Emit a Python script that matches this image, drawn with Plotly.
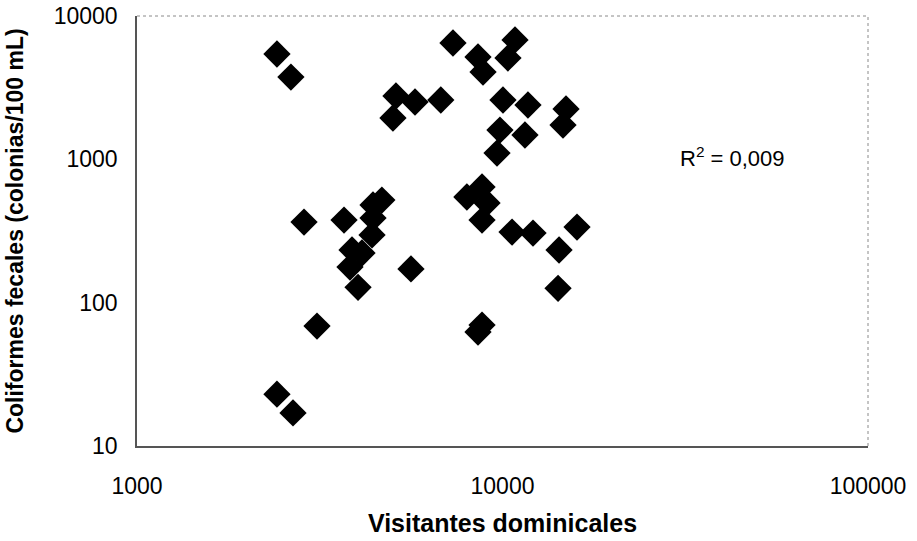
import plotly.graph_objects as go

# Visitantes dominicales (x) and Coliformes fecales (y)
visitantes = [
    2415, 2637, 2864, 3108, 2415, 2672, 3685,
    4677, 4423, 4423, 4396, 3875, 4127, 3826, 4025, 5618,
    5111, 5763, 6780, 5015,
    7320, 8570, 8845, 10820, 10350, 10030, 11740, 14920, 14640, 9840, 11520, 9660,
    7990, 8790, 9070, 8790, 10620, 12120, 15990, 14280, 14190, 8790, 8570,
]
coliformes = [
    5430, 3750, 365, 68.7, 23.0, 17.0, 377,
    520, 480, 389, 297, 233, 222, 177, 128, 172,
    2767, 2512, 2593, 1942,
    6480, 5175, 4066, 6805, 5093, 2593, 2393, 2244, 1735, 1601, 1478, 1106,
    546, 641, 496, 377, 311, 306, 337, 233, 126, 69.8, 62.4,
]

x_ticks = [1000, 10000, 100000]
y_ticks = [10, 100, 1000, 10000]
r2_text = "R<sup>2</sup> = 0,009"

FONT = "Liberation Sans, Arial, sans-serif"

fig = go.Figure()
fig.add_trace(go.Scatter(
    x=visitantes, y=coliformes, mode="markers",
    marker=dict(symbol="diamond", size=21, color="black", line=dict(width=0)),
    showlegend=False, hoverinfo="x+y",
))

# top / right dotted frame
fig.add_shape(type="line", xref="paper", yref="paper", x0=0, x1=1, y0=1, y1=1,
              line=dict(color="#8a8a8a", width=1, dash="dot"))
fig.add_shape(type="line", xref="paper", yref="paper", x0=1, x1=1, y0=0, y1=1,
              line=dict(color="#8a8a8a", width=1, dash="dot"))

fig.add_annotation(xref="paper", yref="paper", x=0.814, y=0.672, text=r2_text,
                   showarrow=False, font=dict(family=FONT, size=22, color="black"),
                   xanchor="center", yanchor="middle")

fig.update_layout(
    width=917, height=541,
    margin=dict(l=137, r=49, t=16, b=95, autoexpand=False),
    paper_bgcolor="white", plot_bgcolor="white",
    font=dict(family=FONT, color="black"),
    xaxis=dict(
        type="log", range=[3, 5], tickvals=x_ticks, ticktext=[str(v) for v in x_ticks],
        showgrid=False, zeroline=False, showline=True, linecolor="#555", linewidth=1.5,
        ticks="", tickfont=dict(family=FONT, size=23), ticklabelstandoff=19,
        automargin=False, ticklabeloverflow="allow",
        title=dict(text="<b>Visitantes dominicales</b>", font=dict(family=FONT, size=25),
                   standoff=16),
    ),
    yaxis=dict(
        type="log", range=[1, 4], tickvals=y_ticks, ticktext=[str(v) for v in y_ticks],
        showgrid=False, zeroline=False, showline=True, linecolor="#555", linewidth=1.5,
        ticks="", tickfont=dict(family=FONT, size=23), ticklabelstandoff=13,
        automargin=False, ticklabeloverflow="allow",
        title=dict(text="<b>Coliformes fecales (colonias/100 mL)</b>",
                   font=dict(family=FONT, size=23), standoff=24),
    ),
)

fig.write_html("out.html", config={"displayModeBar": False},
               post_script="document.body.style.margin='0';document.body.style.overflow='hidden';")
